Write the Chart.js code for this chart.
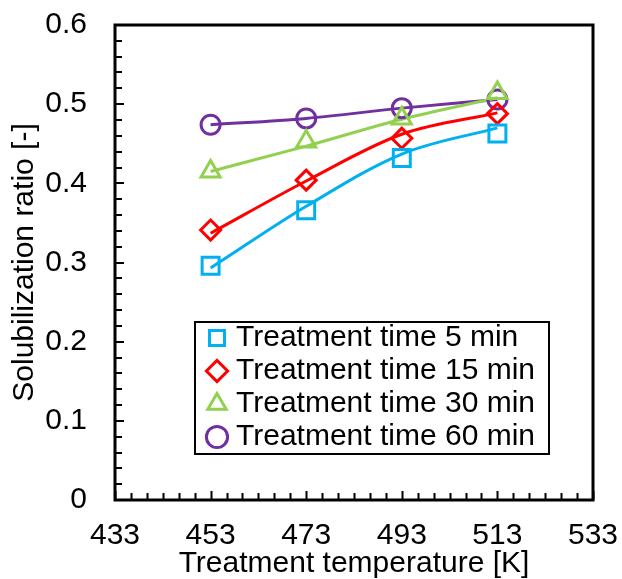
<!DOCTYPE html>
<html lang="en">
<head>
    <meta charset="UTF-8">
    <title>Solubilization ratio</title>
    <script src="https://cdn.jsdelivr.net/npm/chart.js@4"></script>
    <style>
        html, body { margin: 0; padding: 0; background: #fff; }
        #wrap { width: 622px; height: 579px; position: relative; }
    </style>
</head>
<body>
<div id="wrap"><canvas id="solChart"></canvas></div>
<script>
// treatment temperature [K]
const temps = [453, 473, 493, 513];
const xTicks = [433, 453, 473, 493, 513, 533];
const labels = ['Treatment time 5 min', 'Treatment time 15 min', 'Treatment time 30 min', 'Treatment time 60 min'];

// measured solubilization ratio
const time5 = [0.296, 0.366, 0.432, 0.463];
const time15 = [0.341, 0.404, 0.457, 0.488];
const time30 = [0.415, 0.453, 0.482, 0.514];
const time60 = [0.474, 0.482, 0.495, 0.506];

// trend curves at the same temperatures
const fit5 = [0.293, 0.371, 0.437, 0.470];
const fit15 = [0.337, 0.403, 0.462, 0.489];
const fit30 = [0.415, 0.447, 0.481, 0.508];
const fit60 = [0.474, 0.482, 0.495, 0.506];

const colors = ['#00B0F0', '#FF0000', '#92D050', '#7030A0'];
const styles = ['rect', 'rectRot', 'triangle', 'circle'];
const radii = [12, 10, 11, 9.5];

const FONT = 'Liberation Sans, Arial, sans-serif';

const pairs = arr => arr.map((v, i) => ({ x: temps[i], y: v }));

const markerSets = [time5, time15, time30, time60].map((arr, i) => ({
    label: labels[i],
    data: pairs(arr),
    showLine: false,
    pointStyle: styles[i],
    pointRadius: radii[i],
    pointBorderWidth: 3,
    borderWidth: 3,
    borderColor: colors[i],
    backgroundColor: 'rgba(255,255,255,0)',
    pointBackgroundColor: 'rgba(255,255,255,0)'
}));

const fitSets = [fit5, fit15, fit30, fit60].map((arr, i) => ({
    label: 'fit ' + labels[i],
    data: pairs(arr),
    showLine: true,
    pointRadius: 0,
    borderWidth: 3,
    borderColor: colors[i],
    backgroundColor: colors[i],
    cubicInterpolationMode: 'monotone',
    fill: false
}));

// frame, inward tick marks and legend placement
const framePlugin = {
    id: 'frame',
    afterLayout(chart) {
        const lg = chart.legend, ca = chart.chartArea;
        const left = ca.left + 95, top = ca.top + 295;
        lg.left = left; lg.top = top;
        lg.right = left + 360; lg.bottom = top + 160;
        lg.width = 360; lg.height = 160;
        // markers stick out past the box's left edge, so skip the clip
        lg.draw = function () { if (this.options.display) this._draw(); };
    },
    afterDraw(chart) {
        const ctx = chart.ctx, ca = chart.chartArea;
        const xs = chart.scales.x, ys = chart.scales.y;
        ctx.save();
        ctx.strokeStyle = '#000';
        ctx.lineWidth = 2;
        ctx.beginPath();
        for (let i = 0; i <= 30; i++) {
            const px = Math.round(xs.getPixelForValue(433 + i * 100 / 30)) + 0.5;
            const len = i % 6 === 0 ? 9 : 7;
            ctx.moveTo(px, ca.bottom);
            ctx.lineTo(px, ca.bottom - len);
        }
        for (let i = 0; i <= 30; i++) {
            const py = Math.round(ys.getPixelForValue(i * 0.02));
            const len = i % 5 === 0 ? 9 : 7;
            ctx.moveTo(ca.left, py);
            ctx.lineTo(ca.left + len, py);
        }
        ctx.stroke();
        ctx.lineWidth = 3;
        ctx.strokeRect(ca.left, ca.top, ca.right - ca.left, ca.bottom - ca.top);
        // legend border
        ctx.lineWidth = 2;
        ctx.strokeRect(ca.left + 80, ca.top + 297, 354, 132);
        ctx.restore();
    }
};

new Chart(document.getElementById('solChart'), {
    type: 'scatter',
    data: { datasets: [...markerSets, ...fitSets] },
    options: {
        responsive: true,
        maintainAspectRatio: false,
        animation: false,
        events: [],
        layout: { padding: { left: 0, top: 25, right: 29, bottom: 0 } },
        plugins: {
            tooltip: { enabled: false },
            legend: {
                position: 'chartArea',
                align: 'start',
                labels: {
                    usePointStyle: true,
                    boxWidth: 8,
                    boxHeight: 15,
                    padding: 3,
                    color: '#000',
                    font: { family: FONT, size: 30 },
                    filter: item => item.datasetIndex < 4
                }
            }
        },
        scales: {
            x: {
                type: 'linear',
                min: 433,
                max: 533,
                afterBuildTicks: scale => { scale.ticks = xTicks.map(v => ({ value: v })); },
                afterFit: scale => {
                    scale.height = 79;
                    scale.paddingLeft = 0;
                    scale.paddingRight = 0;
                },
                grid: { display: false, drawTicks: false },
                border: { display: false },
                ticks: { color: '#000', padding: 18, font: { family: FONT, size: 30 } },
                title: {
                    display: true,
                    text: 'Treatment temperature [K]',
                    color: '#000',
                    font: { family: FONT, size: 30, lineHeight: 1 },
                    padding: { top: 0, bottom: 0 }
                }
            },
            y: {
                min: 0,
                max: 0.6,
                afterFit: scale => {
                    scale.width = 115;
                    scale.paddingTop = 0;
                    scale.paddingBottom = 0;
                },
                grid: { display: false, drawTicks: false },
                border: { display: false },
                ticks: { stepSize: 0.1, color: '#000', padding: 28, font: { family: FONT, size: 30 } },
                title: {
                    display: true,
                    text: 'Solubilization ratio [-]',
                    color: '#000',
                    font: { family: FONT, size: 30, lineHeight: 1 },
                    padding: { top: 10, bottom: 0 }
                }
            }
        }
    },
    plugins: [framePlugin]
});
</script>
</body>
</html>
